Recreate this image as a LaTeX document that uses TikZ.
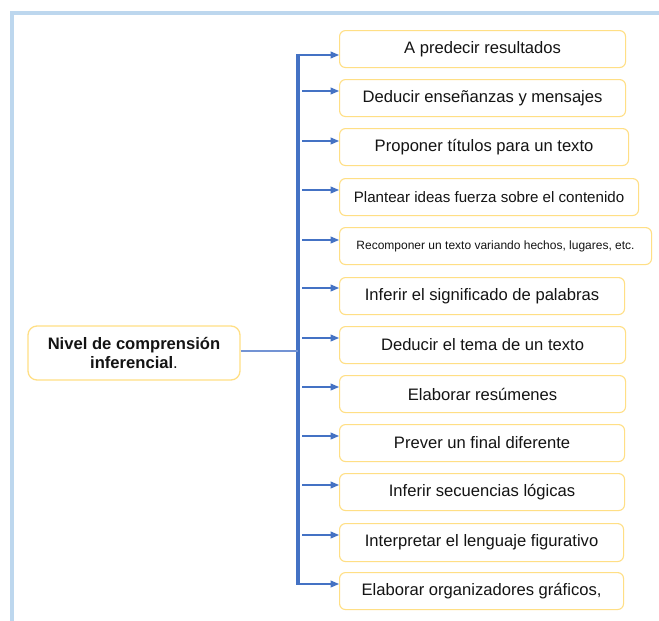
\documentclass[tikz,border=0pt]{standalone}
\usepackage{fontspec}
\setmainfont{Liberation Sans}
\usetikzlibrary{arrows.meta}
\definecolor{frameblue}{HTML}{BDD7EE}
\definecolor{boxgold}{HTML}{FFDF85}
\definecolor{linkblue}{HTML}{4472C4}
\definecolor{connblue}{HTML}{7393D4}
\definecolor{txt}{HTML}{141414}
\begin{document}
\begin{tikzpicture}[x=1pt,y=-1pt,
  item/.style={draw=boxgold, line width=1.1pt, rounded corners=6pt, minimum height=37pt,
    anchor=north west, inner sep=0pt, text=txt, font=\fontsize{16.6}{19}\selectfont},
  rootbox/.style={draw=boxgold, line width=1.3pt, rounded corners=9pt, minimum width=212pt,
    minimum height=54pt, inner sep=0pt, align=center, text=txt, font=\fontsize{16.6}{19.5}\selectfont},
  arr/.style={draw=linkblue, line width=1.1pt, -{Triangle[length=8.5pt,width=7pt]}},
  stem/.style={draw=linkblue, line width=3.2pt},
  conn/.style={draw=connblue, line width=1.2pt},
  frame/.style={draw=frameblue, line width=3.5pt}
]
\useasboundingbox (0,0) rectangle (659,621);
\fill[white] (0,0) rectangle (659,621);
\draw[frame] (12,630) -- (12,13) -- (670,13);

\node[item, minimum width=286pt] (b1) at (339,30) {A predecir resultados};
\node[item, minimum width=286pt] (b2) at (339,79) {Deducir enseñanzas y mensajes};
\node[item, minimum width=289pt] (b3) at (339,128) {Proponer títulos para un texto};
\node[item, minimum width=299pt, font=\fontsize{15.1}{18}\selectfont] (b4) at (339,178) {Plantear ideas fuerza sobre el contenido};
\node[item, minimum width=312pt, font=\fontsize{12}{14}\selectfont] (b5) at (339,227) {Recomponer un texto variando hechos, lugares, etc.};
\node[item, minimum width=285pt] (b6) at (339,277) {Inferir el significado de palabras};
\node[item, minimum width=286pt] (b7) at (339,326) {Deducir el tema de un texto};
\node[item, minimum width=286pt] (b8) at (339,375) {Elaborar resúmenes};
\node[item, minimum width=285pt] (b9) at (339,424) {Prever un final diferente};
\node[item, minimum width=285pt] (b10) at (339,473) {Inferir secuencias lógicas};
\node[item, minimum width=284pt, minimum height=38pt] (b11) at (339,523) {Interpretar el lenguaje figurativo};
\node[item, minimum width=284pt] (b12) at (339,572) {Elaborar organizadores gráficos,};

\node[rootbox] (root) at (134,353) {\textbf{Nivel de comprensión}\\\textbf{inferencial}.};

\coordinate (top) at (298,55);
\coordinate (bot) at (298,584);
\draw[stem] ([yshift=1.2pt]top) -- ([yshift=-1.2pt]bot);

\coordinate (s2) at (302,91);
\coordinate (s3) at (302,141);
\coordinate (s4) at (302,190);
\coordinate (s5) at (302,240);
\coordinate (s6) at (302,288);
\coordinate (s7) at (302,338);
\coordinate (s8) at (302,387);
\coordinate (s9) at (302,436);
\coordinate (s10) at (302,485);
\coordinate (s11) at (302,535);

\draw[arr] (top) -- (top -| b1.west);
\foreach \i in {2,...,11} {\draw[arr] (s\i) -- (s\i -| b\i.west);}
\draw[arr] (bot) -- (bot -| b12.west);

\coordinate (j) at (298,351);
\draw[conn] (root.east |- j) -- (j);
\end{tikzpicture}
\end{document}
